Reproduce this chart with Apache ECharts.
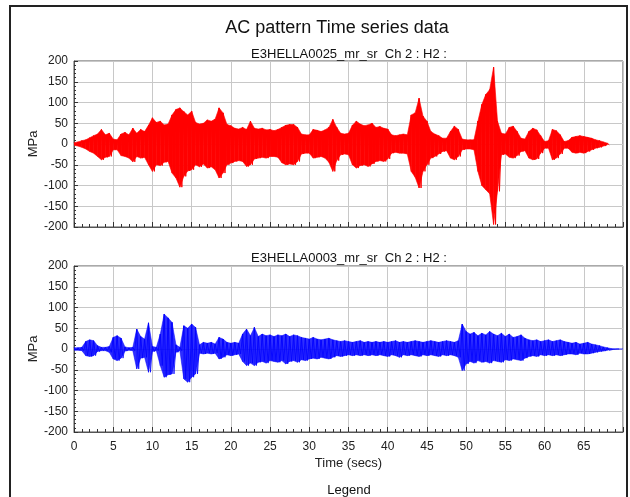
<!DOCTYPE html>
<html>
<head>
<meta charset="utf-8">
<script src="https://cdn.jsdelivr.net/npm/echarts@6/dist/echarts.min.js"></script>
<style>
html,body{margin:0;padding:0;background:#fff;}
#c{width:630px;height:497px;}
</style>
</head>
<body>
<div id="c"></div>
<script>
// ---- data (envelope, one hi/lo pair every 0.5 s) ----
const STEP = 0.5;
const topTitle = "E3HELLA0025_mr_sr  Ch 2 : H2 :";
const botTitle = "E3HELLA0003_mr_sr  Ch 2 : H2 :";
const xTicks = [0,5,10,15,20,25,30,35,40,45,50,55,60,65];

const topHi = [3,5,8,10,15,20,24,35,22,26,12,10,24,28,22,38,26,35,30,45,
  63,52,55,46,48,70,83,87,78,70,79,52,48,50,58,55,60,87,75,47,
  44,38,36,40,35,55,38,36,38,34,35,32,35,40,45,47,47,40,24,22,
  22,35,33,30,34,40,59,40,26,24,26,45,55,48,44,46,50,40,42,38,
  36,22,20,22,24,22,70,75,110,67,55,30,24,20,14,14,30,43,35,12,
  10,10,10,55,95,119,131,185,55,26,24,40,43,30,14,12,30,38,34,20,
  6,8,35,32,22,6,8,16,18,20,18,16,14,10,8,5,2,null,null,null];
const topLo = [-3,-5,-8,-12,-18,-22,-30,-38,-32,-30,-14,-14,-28,-30,-34,-43,-30,-34,-32,-50,
  -66,-50,-52,-44,-42,-70,-82,-104,-78,-65,-62,-50,-55,-48,-58,-55,-62,-82,-70,-50,
  -46,-42,-40,-42,-54,-50,-36,-34,-32,-34,-30,-30,-32,-45,-50,-48,-50,-42,-24,-22,
  -22,-34,-32,-30,-34,-44,-66,-40,-26,-24,-26,-50,-58,-52,-50,-54,-48,-42,-40,-42,
  -36,-22,-20,-22,-22,-24,-66,-80,-106,-66,-50,-34,-30,-24,-18,-16,-34,-38,-30,-14,
  -12,-12,-14,-66,-100,-110,-120,-194,-114,-26,-24,-32,-34,-28,-18,-16,-34,-38,-36,-22,
  -10,-10,-38,-34,-24,-10,-10,-20,-22,-20,-22,-18,-14,-10,-8,-5,-2,null,null,null];

const botHi = [3,3,4,18,22,20,8,4,4,6,28,32,26,5,3,4,48,30,24,63,
  6,4,36,84,75,64,10,4,56,50,60,52,10,16,14,16,12,28,24,16,
  14,16,14,36,48,32,52,30,36,32,34,30,34,32,36,30,34,32,28,26,
  24,28,24,22,24,26,22,20,18,20,18,16,18,20,16,18,16,18,16,18,
  16,18,20,16,18,16,18,20,18,16,18,20,18,16,18,20,18,16,20,60,
  42,36,40,32,38,34,42,36,32,38,30,36,28,30,34,26,22,20,22,18,
  20,22,18,20,22,18,16,14,16,12,14,16,12,10,8,5,3,1,0,0];
const botLo = [-3,-3,-4,-16,-18,-16,-6,-4,-4,-8,-24,-28,-22,-5,-3,-4,-48,-22,-20,-56,
  -6,-4,-40,-68,-62,-60,-8,-4,-72,-80,-68,-60,-10,-12,-10,-12,-10,-24,-20,-14,
  -16,-14,-12,-30,-40,-34,-40,-32,-30,-34,-28,-30,-32,-28,-36,-30,-28,-32,-26,-28,
  -24,-22,-24,-20,-22,-24,-20,-16,-18,-16,-14,-16,-14,-16,-14,-16,-14,-16,-14,-16,
  -18,-14,-16,-20,-14,-16,-14,-16,-18,-14,-16,-14,-16,-18,-14,-16,-14,-16,-20,-52,
  -36,-30,-34,-28,-32,-30,-34,-28,-30,-32,-26,-28,-24,-26,-28,-22,-18,-16,-18,-14,
  -16,-14,-16,-14,-16,-14,-12,-12,-14,-10,-12,-12,-10,-8,-6,-5,-3,-1,0,0];

// zig-zag trace: hi at t, lo at t+STEP/2
function trace(hi, lo, tail) {
  const out = [];
  for (let i = 0; i < hi.length; i++) {
    if (hi[i] === null) break;
    const t = i * STEP;
    out.push([t, hi[i]]);
    out.push([t + STEP / 2, lo[i]]);
  }
  if (tail !== undefined) out.push([tail, 0]);
  return out;
}
// envelope bands between consecutive samples
function bands(hi, lo) {
  const out = [];
  for (let i = 0; i + 1 < hi.length; i++) {
    if (hi[i] === null || hi[i + 1] === null) break;
    out.push([i * STEP, hi[i], lo[i], (i + 1) * STEP, hi[i + 1], lo[i + 1]]);
  }
  return out;
}
function bandRenderer(color, opacity) {
  return function (params, api) {
    const a = api.coord([api.value(0), api.value(1)]);
    const b = api.coord([api.value(3), api.value(4)]);
    const c = api.coord([api.value(3), api.value(5)]);
    const d = api.coord([api.value(0), api.value(2)]);
    return {type: 'polygon', shape: {points: [a, b, c, d]},
      style: {fill: color, stroke: color, lineWidth: 0.6, opacity: opacity}};
  };
}

const FONT = '"Liberation Sans", Arial, sans-serif';
const chart = echarts.init(document.getElementById('c'), null, {renderer: 'canvas'});

function xAxis(gi, showLabels) {
  return {
    type: 'value', gridIndex: gi, min: 0, max: 70, interval: 5,
    axisLine: {show: true, onZero: false, lineStyle: {color: '#555', width: 1}},
    axisTick: {show: true, inside: true, length: 5, lineStyle: {color: '#333'}},
    minorTick: {show: true, splitNumber: 5, length: 3, lineStyle: {color: '#333'}},
    splitLine: {show: true, lineStyle: {color: '#c8c8c8', width: 1}},
    axisLabel: {show: showLabels, showMaxLabel: false, color: '#222', fontFamily: FONT, fontSize: 12, margin: 9},
    name: showLabels ? 'Time (secs)' : '', nameLocation: 'middle', nameGap: 25,
    nameTextStyle: {color: '#222', fontFamily: FONT, fontSize: 13, verticalAlign: 'top'}
  };
}
function yAxis(gi) {
  return {
    type: 'value', gridIndex: gi, min: -200, max: 200, interval: 50,
    axisLine: {show: true, onZero: false, lineStyle: {color: '#555', width: 1}},
    axisTick: {show: true, inside: true, length: 4, lineStyle: {color: '#333'}},
    minorTick: {show: true, splitNumber: 5, length: 2, lineStyle: {color: '#333'}},
    splitLine: {show: true, lineStyle: {color: '#c8c8c8', width: 1}},
    axisLabel: {color: '#222', fontFamily: FONT, fontSize: 12, margin: 6},
    name: 'MPa', nameLocation: 'middle', nameGap: 34, nameRotate: 90, nameMoveOverlap: false,
    nameTextStyle: {color: '#222', fontFamily: FONT, fontSize: 13}
  };
}

chart.setOption({
  animation: false,
  backgroundColor: '#fff',
  title: [
    {text: 'AC pattern Time series data', left: 332, top: 14, textAlign: 'center',
     textStyle: {fontFamily: FONT, fontSize: 18, fontWeight: 'normal', color: '#111'}},
    {text: topTitle, left: 344, top: 43, textAlign: 'center',
     textStyle: {fontFamily: FONT, fontSize: 13, fontWeight: 'normal', color: '#111'}},
    {text: botTitle, left: 344, top: 247, textAlign: 'center',
     textStyle: {fontFamily: FONT, fontSize: 13, fontWeight: 'normal', color: '#111'}},
    {text: 'Legend', left: 344, top: 479, textAlign: 'center',
     textStyle: {fontFamily: FONT, fontSize: 13, fontWeight: 'normal', color: '#111'}}
  ],
  graphic: [
    {type: 'rect', shape: {x: 10, y: 6, width: 617, height: 500}, z: 100,
     style: {fill: 'none', stroke: '#222', lineWidth: 2}, silent: true}
  ],
  grid: [
    {left: 74, top: 61, width: 549, height: 166, show: true, borderColor: '#555', borderWidth: 1},
    {left: 74, top: 266, width: 549, height: 166, show: true, borderColor: '#555', borderWidth: 1}
  ],
  xAxis: [xAxis(0, false), xAxis(1, true)],
  yAxis: [yAxis(0), yAxis(1)],
  series: [
    {type: 'custom', xAxisIndex: 0, yAxisIndex: 0, data: bands(topHi, topLo),
     encode: {x: [0, 3], y: [1, 2, 4, 5]}, renderItem: bandRenderer('#ff0000', 1), z: 2, clip: true},
    {type: 'line', xAxisIndex: 0, yAxisIndex: 0, data: trace(topHi, topLo),
     showSymbol: false, symbol: 'none', sampling: null,
     lineStyle: {color: '#ff0000', width: 1}, z: 3},
    {type: 'custom', xAxisIndex: 1, yAxisIndex: 1, data: bands(botHi, botLo),
     encode: {x: [0, 3], y: [1, 2, 4, 5]}, renderItem: bandRenderer('#0000ff', 0.82), z: 2, clip: true},
    {type: 'line', xAxisIndex: 1, yAxisIndex: 1, data: trace(botHi, botLo, 70),
     showSymbol: false, symbol: 'none', sampling: null,
     lineStyle: {color: '#0000ff', width: 0.8}, z: 3}
  ]
});
</script>
</body>
</html>
